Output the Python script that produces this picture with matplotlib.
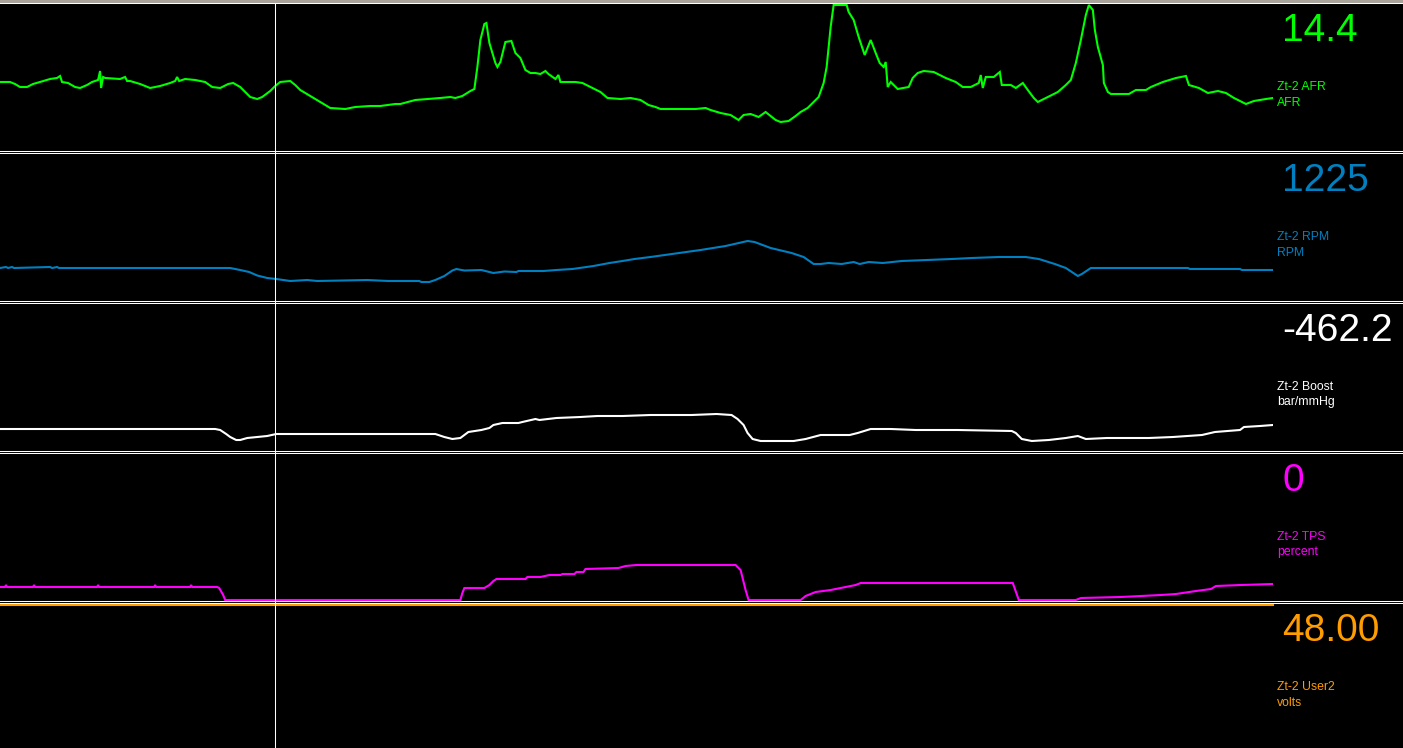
import matplotlib
matplotlib.use('Agg')
import matplotlib.pyplot as plt
from matplotlib.lines import Line2D
from matplotlib.patches import Rectangle

# trace data: sample index vs. level above the bottom of its strip
afr_t = [0, 10, 15, 20, 27, 33, 40, 50, 57, 60, 62, 68, 75, 80, 87, 92, 98, 100, 101, 103, 105, 120, 125, 127,
         130, 140, 150, 160, 170, 175, 177, 179, 185, 195, 205, 212, 220, 228, 233, 240, 245, 250, 257, 262,
         270, 275, 280, 290, 295, 300, 310, 320, 330, 345, 355, 370, 380, 395, 400, 415, 440, 450, 455, 462,
         470, 474, 477, 480, 484, 486, 489, 495, 497, 500, 505, 511, 515, 520, 525, 530, 535, 540, 545, 548,
         555, 558, 560, 575, 582, 590, 600, 607, 620, 630, 640, 648, 655, 660, 695, 705, 710, 720, 730, 738,
         743, 750, 758, 765, 775, 780, 788, 795, 800, 807, 815, 818, 823, 826, 830, 833, 846, 848, 853, 858,
         864, 870, 875, 879, 883, 885, 887, 890, 897, 908, 912, 917, 923, 933, 945, 955, 962, 970, 978, 980,
         982, 985, 993, 999, 1001, 1010, 1015, 1022, 1027, 1033, 1037, 1047, 1057, 1065, 1070, 1075, 1080,
         1085, 1088, 1092, 1094, 1097, 1102, 1103, 1107, 1110, 1128, 1135, 1145, 1150, 1162, 1175, 1185, 1188,
         1198, 1207, 1217, 1225, 1233, 1245, 1253, 1265, 1272]
afr_v = [69, 69, 67, 64, 64, 67, 69, 72, 73, 75, 69, 68, 64, 63, 66, 69, 71, 80, 63, 74, 73, 72, 74, 70,
         70, 67, 63, 65, 68, 70, 74, 70, 72, 71, 69, 64, 63, 67, 68, 64, 59, 54, 52, 54,
         60, 65, 69, 70, 66, 61, 55, 49, 43, 42, 44, 45, 45, 47, 47, 51, 53, 54, 53, 55,
         60, 62, 84, 111, 127, 128, 108, 88, 84, 89, 109, 110, 98, 93, 81, 78, 78, 77, 80, 77,
         72, 76, 69, 69, 68, 64, 59, 53, 52, 53, 51, 46, 44, 42, 42, 43, 41, 38, 36, 31,
         36, 37, 34, 39, 31, 29, 30, 35, 39, 43, 51, 54, 68, 84, 124, 146, 146, 139, 131, 114,
         96, 111, 98, 88, 84, 89, 64, 69, 62, 64, 73, 78, 80, 79, 73, 69, 64, 64, 68, 76,
         63, 74, 74, 79, 66, 66, 63, 68, 61, 53, 49, 54, 59, 66, 71, 88, 111,
         136, 146, 141, 121, 104, 86, 68, 59, 57, 57, 61, 61, 64, 69, 73, 75, 66,
         63, 58, 60, 58, 53, 47, 50, 52, 53]

rpm_t = [0, 6, 8, 12, 14, 50, 52, 57, 59, 230, 240, 249, 257, 267, 276, 290, 307, 317, 367, 388, 419, 421,
         429, 435, 444, 452, 456, 464, 481, 493, 504, 516, 518, 543, 556, 572, 593, 609, 622, 634, 650, 675,
         700, 725, 747, 754, 770, 791, 803, 813, 820, 828, 841, 853, 859, 868, 882, 901, 926, 951, 971, 998,
         1025, 1038, 1054, 1065, 1077, 1081, 1090, 1102, 1187, 1189, 1239, 1241, 1272]
rpm_v = [33, 34, 33, 34, 33, 34, 33, 34, 33, 33, 31, 29, 25.5, 23, 22, 20, 21, 20, 21, 20, 20, 19,
         19, 21, 25, 30.5, 32, 30.5, 31, 28, 29.5, 29, 30, 30, 31, 32, 35, 38, 40, 42, 44, 47.5,
         51, 55, 60, 59, 53, 48, 44, 37, 37, 38, 37, 39, 37, 39, 38, 40, 41, 42, 43, 44,
         44, 42, 37, 33, 25, 27, 33, 33, 33, 32, 32, 31, 31]

boost_t = [0, 215, 220, 226, 230, 236, 240, 247, 257, 267, 276, 290, 431, 435, 444, 452, 460, 468, 481, 489,
           493, 502, 518, 522, 535, 539, 556, 580, 597, 622, 650, 691, 716, 731, 737, 743, 747, 752, 760,
           774, 793, 805, 820, 849, 857, 870, 890, 915, 957, 1011, 1015, 1021, 1031, 1048, 1065, 1077, 1085,
           1106, 1148, 1172, 1201, 1214, 1239, 1243, 1259, 1272]
boost_v = [22, 22, 21, 17, 14, 11, 11, 13, 14, 15, 17, 17, 17, 17, 14, 12, 13, 19, 21, 23,
           26, 28, 28, 29, 32, 31, 33, 34, 35, 35, 36, 36, 37, 36, 32, 26, 18, 12, 10,
           10, 10, 12, 16, 16, 18, 22, 22, 21, 21, 20, 18, 12, 10, 11, 13, 15, 12,
           13, 13, 14, 16, 19, 21, 24, 25, 26]

tps_t = [0, 5, 6, 7, 33, 34, 35, 97, 98, 99, 154, 155, 156, 190, 191, 192, 217, 219, 223, 225, 460, 462, 464,
         484, 489, 493, 496, 525, 527, 540, 549, 560, 562, 574, 576, 583, 585, 618, 625, 636, 735, 740, 745,
         748, 800, 805, 815, 830, 855, 860, 1012, 1018, 1075, 1080, 1120, 1160, 1175, 1195, 1210, 1215,
         1240, 1272]
tps_v = [14, 14, 16, 14, 14, 16, 14, 14, 16, 14, 14, 16, 14, 14, 16, 14, 14, 13, 6, 1, 1, 8, 13,
         13, 16, 20, 22, 22, 24, 24, 26, 26, 27, 27, 29, 29, 32, 33, 35, 36, 36, 31, 11,
         1, 1, 5, 9, 11, 16, 18, 18, 1, 1, 3, 4, 6, 7, 10, 12, 15,
         16, 17]

user2_t = [0, 1272]
user2_v = [48.0, 48.0]

names = ['Zt-2 AFR', 'Zt-2 RPM', 'Zt-2 Boost', 'Zt-2 TPS', 'Zt-2 User2']
units = ['AFR', 'RPM', 'bar/mmHg', 'percent', 'volts']
readouts = ['14.4', '1225', '-462.2', '0', '48.00']
colors = ['#00ff00', '#0080c0', '#ffffff', '#ff00ff', '#ff9c00']
traces = [(afr_t, afr_v), (rpm_t, rpm_v), (boost_t, boost_v), (tps_t, tps_v), (user2_t, user2_v)]
ylims = [(0, 147), (0, 147), (0, 147), (0, 147), (0, 48.34)]
cursor_t = 275

W, H = 1403, 748
plot_w = 1273


def fx(px):
    return px / W


def fy(py):
    return 1 - py / H


fig = plt.figure(figsize=(W / 100, H / 100), dpi=100, facecolor='black')

# strips (top, bottom in pixels)
strips = [(4, 151), (154, 301), (304, 451), (454, 601), (604, 748)]
for i, (top, bot) in enumerate(strips):
    ax = fig.add_axes([0, fy(bot), plot_w / W, (bot - top) / H])
    ax.set_facecolor('black')
    t, v = traces[i]
    ax.plot(t, v, color=colors[i], lw=1.5, solid_joinstyle='miter', clip_on=(i < 4))
    ax.set_xlim(0, plot_w - 1)
    ax.set_ylim(*ylims[i])
    ax.axis('off')

    # right-hand readout and labels
    fig.text(fx(1282), fy(top + 37), readouts[i], color=colors[i], fontsize=28,
             family='Liberation Sans', va='baseline', ha='left')
    fig.text(fx(1277), fy(top + 86.5), names[i], color=colors[i], fontsize=8.8,
             family='Liberation Sans', va='baseline', ha='left')
    fig.text(fx(1277), fy(top + 101.5), units[i], color=colors[i], fontsize=8.8,
             family='Liberation Sans', va='baseline', ha='left')

# frame: grey top border and double white separators
fig.patches.append(Rectangle((0, fy(2.5)), 1, 2.5 / H, transform=fig.transFigure,
                             facecolor='#a8a49c', edgecolor='none'))
for py in [2.5, 150.5, 152.5, 300.5, 302.5, 450.5, 452.5, 600.5, 602.5]:
    fig.lines.append(Line2D([0, 1], [fy(py), fy(py)], transform=fig.transFigure,
                            color='white', lw=0.75))

# cursor line across all strips
over = fig.add_axes([0, 0, plot_w / W, fy(3.5)])
over.set_xlim(0, plot_w - 1)
over.set_ylim(0, 1)
over.patch.set_alpha(0)
over.axis('off')
over.axvline(cursor_t, color='white', lw=0.75)

fig.savefig('out.png', dpi=100, facecolor='black')
